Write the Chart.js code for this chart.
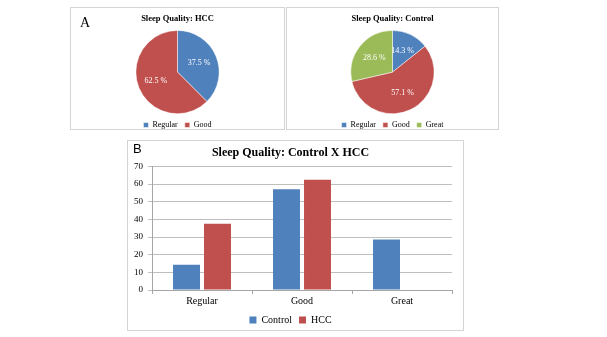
<!DOCTYPE html>
<html><head><meta charset="utf-8">
<script src="https://cdn.jsdelivr.net/npm/chart.js@4/dist/chart.umd.min.js"></script>
<style>
html,body{margin:0;padding:0;background:#fff;width:607px;height:337px;overflow:hidden;font-family:"Liberation Serif",serif;}
.panel{position:absolute;border:1px solid #d4d4d4;background:#fff;box-sizing:border-box;}
.panel canvas{position:absolute;left:0;top:0;}
.lab{position:absolute;font-family:"Liberation Serif",serif;color:#000;}
</style></head><body>
<div class="panel" style="left:70px;top:7px;width:215px;height:123px;"><canvas id="c1" width="213" height="121"></canvas></div>
<div class="panel" style="left:286px;top:7px;width:213px;height:123px;"><canvas id="c2" width="211" height="121"></canvas></div>
<div class="panel" style="left:127px;top:140px;width:337px;height:191px;"><canvas id="c3" width="335" height="189"></canvas></div>
<div class="lab" style="left:80px;top:15px;font-size:14px;">A</div>
<div class="lab" style="left:133px;top:141px;font-size:13px;font-family:'Liberation Sans',sans-serif;">B</div>
<script>
const hccLabels = ["Regular", "Good"];
const hccValues = [37.5, 62.5];
const controlLabels = ["Regular", "Good", "Great"];
const controlValues = [14.3, 57.1, 28.6];
const barCategories = ["Regular", "Good", "Great"];
const barControl = [14.3, 57.1, 28.6];
const barHCC = [37.5, 62.5, 0];
const yTicksMax = 70;

const BLUE = "#4F81BD", RED = "#C0504D", GREEN = "#9BBB59";
const SERIF = "'Liberation Serif', 'Times New Roman', serif";

const pieLabelPlugin = {
  id: 'pieLabels',
  afterDatasetsDraw(chart) {
    const ctx = chart.ctx;
    const meta = chart.getDatasetMeta(0);
    const data = chart.data.datasets[0].data;
    ctx.save();
    ctx.fillStyle = "#fff";
    ctx.font = "8px " + SERIF;
    ctx.textAlign = "center";
    ctx.textBaseline = "middle";
    meta.data.forEach((arc, i) => {
      const p = arc.getProps(['startAngle', 'endAngle', 'outerRadius', 'x', 'y'], true);
      const mid = (p.startAngle + p.endAngle) / 2;
      const r = p.outerRadius * 0.56;
      ctx.fillText(data[i].toFixed(1) + " %", p.x + Math.cos(mid) * r, p.y + Math.sin(mid) * r);
    });
    ctx.restore();
  }
};

function pieOpts(title) {
  return {
    responsive: false, animation: false,
    layout: { padding: { top: 0, bottom: -10 } },
    plugins: {
      title: { display: true, text: title, color: "#000", font: { family: SERIF, size: 8.5, weight: "bold" }, padding: { top: 6, bottom: 6 } },
      legend: { position: "bottom", labels: { color: "#000", boxWidth: 5, boxHeight: 5, padding: 7, font: { family: SERIF, size: 8 } } },
      tooltip: { enabled: false }
    }
  };
}

new Chart(document.getElementById("c1"), {
  type: "pie",
  data: { labels: hccLabels, datasets: [{ data: hccValues, backgroundColor: [BLUE, RED], borderColor: "#fff", borderWidth: 0.5 }] },
  options: pieOpts("Sleep Quality: HCC"),
  plugins: [pieLabelPlugin]
});
new Chart(document.getElementById("c2"), {
  type: "pie",
  data: { labels: controlLabels, datasets: [{ data: controlValues, backgroundColor: [BLUE, RED, GREEN], borderColor: "#fff", borderWidth: 0.5 }] },
  options: pieOpts("Sleep Quality: Control"),
  plugins: [pieLabelPlugin]
});

new Chart(document.getElementById("c3"), {
  type: "bar",
  data: {
    labels: barCategories,
    datasets: [
      { label: "Control", data: barControl, backgroundColor: BLUE, barPercentage: 0.87, categoryPercentage: 0.62 },
      { label: "HCC", data: barHCC, backgroundColor: RED, barPercentage: 0.87, categoryPercentage: 0.62 }
    ]
  },
  options: {
    responsive: false, animation: false,
    layout: { padding: { left: 1, right: 11, top: 0, bottom: -5 } },
    scales: {
      x: {
        grid: { display: true, drawOnChartArea: false, color: "#a6a6a6", tickLength: 4 },
        border: { color: "#a6a6a6" },
        ticks: { color: "#000", font: { family: SERIF, size: 10 }, padding: 1 }
      },
      y: {
        min: 0, max: yTicksMax,
        grid: { color: "#bfbfbf", tickLength: 4 },
        border: { color: "#a6a6a6" },
        ticks: { stepSize: 10, color: "#000", font: { family: SERIF, size: 9 }, padding: 5 }
      }
    },
    plugins: {
      title: { display: true, text: "Sleep Quality: Control X HCC", color: "#000", font: { family: SERIF, size: 12, weight: "bold" }, padding: { top: 5, bottom: 6 } },
      legend: { position: "bottom", labels: { color: "#000", boxWidth: 7, boxHeight: 7, padding: 7, font: { family: SERIF, size: 10 } } },
      tooltip: { enabled: false }
    }
  }
});
</script>
</body></html>
